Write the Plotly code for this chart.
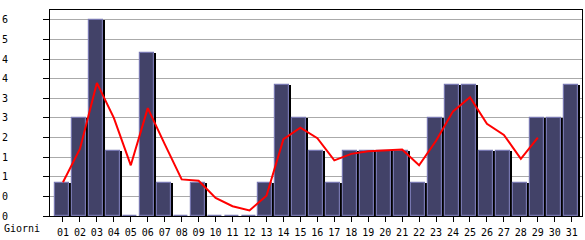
import math
import plotly.graph_objects as go

days = list(range(1, 32))
day_labels = [f"{d:02d}" for d in days]
bar_values = [1, 3, 6, 2, 0, 5, 1, 0, 1, 0, 0, 0, 1, 4, 3, 2, 1, 2, 2, 2,
              2, 1, 3, 4, 4, 2, 2, 1, 3, 3, 4]
line_days = list(range(1, 30))
line_values = [1.03, 2.05, 4.07, 3.0, 1.55, 3.3, 2.2, 1.12, 1.08, 0.55,
               0.3, 0.17, 0.62, 2.35, 2.7, 2.38, 1.7, 1.9, 1.98, 2.0,
               2.03, 1.55, 2.3, 3.2, 3.63, 2.82, 2.48, 1.75, 2.4]
y_tickvals = [round(0.6 * i, 1) for i in range(11)]
y_ticktext = [str(int(math.floor(v + 1e-9))) for v in y_tickvals]
x_title = "Giorni"

PX = 1 / 17.0  # one pixel in x data units

fig = go.Figure()
# shadow bars
fig.add_trace(go.Bar(
    x=days, y=bar_values, offset=-6 * PX, width=14 * PX,
    marker=dict(color="#000000", line=dict(width=0)),
    hoverinfo="skip", showlegend=False,
))
# main bars
fig.add_trace(go.Bar(
    x=days, y=bar_values, offset=-8 * PX, width=14 * PX,
    marker=dict(color="#424268", line=dict(color="#7777B0", width=1.2)),
    showlegend=False,
))
fig.add_trace(go.Scatter(
    x=line_days, y=line_values, mode="lines",
    line=dict(color="#FF0000", width=2),
    showlegend=False,
))

font = dict(family="DejaVu Sans Mono", size=10, color="#000000")

fig.update_layout(
    width=585, height=240,
    margin=dict(l=50, r=2, t=10, b=20),
    paper_bgcolor="#FFFFFF", plot_bgcolor="#FFFFFF",
    barmode="overlay", bargap=0,
    font=font,
    xaxis=dict(
        range=[1 - 13 * PX, 31 + 10.3 * PX],
        tickvals=days, ticktext=day_labels,
        ticks="outside", ticklen=5, tickcolor="#000000", tickwidth=1,
        ticklabelstandoff=2,
        showgrid=False, zeroline=False,
        showline=True, linecolor="#000000", linewidth=1, mirror=True,
        tickfont=font, fixedrange=True,
    ),
    yaxis=dict(
        range=[0, 6.3],
        tickvals=y_tickvals, ticktext=y_ticktext,
        ticks="outside", ticklen=6, tickcolor="#000000", tickwidth=1,
        ticklabelstandoff=33,
        showgrid=True, gridcolor="#AAAAAA", gridwidth=1,
        zeroline=False,
        showline=True, linecolor="#000000", linewidth=1, mirror=True,
        tickfont=font, fixedrange=True,
    ),
    annotations=[dict(
        text=x_title, xref="paper", yref="paper",
        x=-50 / 533.0, y=-12 / 210.0, xanchor="left", yanchor="middle",
        xshift=2, yshift=-1, showarrow=False, font=font,
    )],
)

fig.write_html("out.html")
